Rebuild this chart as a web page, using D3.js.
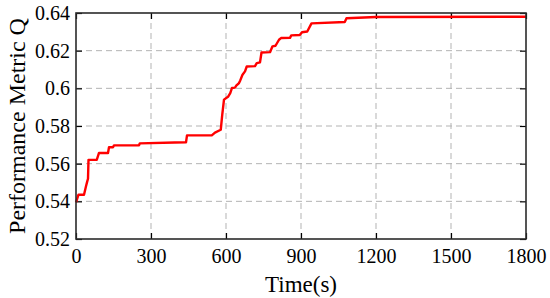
<!DOCTYPE html>
<meta charset="utf-8">
<script src="https://d3js.org/d3.v7.min.js"></script>
<style>
  body { margin: 0; background: #fff; }
</style>
<div id="chart"></div>
<script>
// data
var times = [0, 10, 32, 40, 45, 48, 50, 83, 92, 128, 132, 148, 152, 252, 255, 395, 440, 444,
             543, 556, 579, 585, 592, 608, 617, 624, 636, 641, 652, 657, 666, 676, 683, 716,
             723, 736, 742, 776, 786, 798, 812, 820, 856, 861, 895, 904, 925, 942, 1075, 1082,
             1200, 1800];
var quality = [0.5394, 0.5435, 0.5435, 0.548, 0.5506, 0.552, 0.562, 0.562, 0.5657, 0.5657,
               0.5687, 0.5687, 0.5697, 0.5697, 0.5708, 0.5712, 0.5713, 0.575,
               0.575, 0.5765, 0.578, 0.586, 0.594, 0.5955, 0.5975, 0.6002, 0.6004, 0.6014,
               0.6028, 0.6042, 0.6072, 0.609, 0.6116, 0.6118,
               0.6134, 0.6138, 0.619, 0.6192, 0.6223, 0.6226, 0.6258, 0.6267, 0.6268, 0.6281,
               0.6283, 0.6298, 0.6302, 0.6345, 0.6352, 0.6372,
               0.6379, 0.638];
var xTicks = [0, 300, 600, 900, 1200, 1500, 1800];
var yTicks = [0.52, 0.54, 0.56, 0.58, 0.6, 0.62, 0.64];

var FONT = "'Liberation Serif', Tinos, 'Times New Roman', 'DejaVu Serif', serif";

var data = times.map(function(t, i) { return {t: t, q: quality[i]}; });

var margin = {top: 13, right: 24, bottom: 59, left: 76},
    width = 550 - margin.left - margin.right,
    height = 298 - margin.top - margin.bottom;

var svg = d3.select("#chart")
  .append("svg")
    .attr("width", 550)
    .attr("height", 298)
  .append("g")
    .attr("transform", "translate(" + margin.left + "," + margin.top + ")");

var x = d3.scaleLinear().domain([0, 1800]).range([0, width]);
var y = d3.scaleLinear().domain([0.52, 0.64]).range([height, 0]);

// dashed grid
svg.append("g")
  .selectAll("line")
  .data(xTicks.slice(1, -1))
  .join("line")
    .attr("x1", d => x(d)).attr("x2", d => x(d))
    .attr("y1", 0).attr("y2", height)
    .attr("stroke", "#b3b3b3")
    .attr("stroke-width", 1)
    .attr("stroke-dasharray", "6,4");
svg.append("g")
  .selectAll("line")
  .data(yTicks.slice(1, -1))
  .join("line")
    .attr("x1", 0).attr("x2", width)
    .attr("y1", d => y(d)).attr("y2", d => y(d))
    .attr("stroke", "#b3b3b3")
    .attr("stroke-width", 1)
    .attr("stroke-dasharray", "6,4");

// axes with inward ticks
svg.append("g")
  .attr("transform", "translate(0," + height + ")")
  .call(d3.axisBottom(x).tickValues(xTicks).tickFormat(d3.format("d")).tickSizeInner(-6).tickSizeOuter(0).tickPadding(10));
svg.append("g")
  .call(d3.axisLeft(y).tickValues(yTicks).tickFormat(d => d3.format(".2~f")(d)).tickSizeInner(-6).tickSizeOuter(0).tickPadding(6));
svg.append("g")
  .call(d3.axisTop(x).tickValues(xTicks).tickFormat("").tickSizeInner(-6).tickSizeOuter(0));
svg.append("g")
  .attr("transform", "translate(" + width + ",0)")
  .call(d3.axisRight(y).tickValues(yTicks).tickFormat("").tickSizeInner(-6).tickSizeOuter(0));

svg.selectAll(".domain").remove();
svg.selectAll(".tick line").attr("stroke", "#000").attr("stroke-width", 1.2);
svg.selectAll(".tick text")
  .attr("fill", "#000")
  .attr("font-family", FONT)
  .attr("font-size", 20);

// step line
var line = d3.line().x(d => x(d.t)).y(d => y(d.q));
svg.append("path")
  .datum(data)
  .attr("fill", "none")
  .attr("stroke", "#ff0000")
  .attr("stroke-width", 2.4)
  .attr("stroke-linejoin", "round")
  .attr("d", line);

// frame
svg.append("rect")
  .attr("width", width)
  .attr("height", height)
  .attr("fill", "none")
  .attr("stroke", "#2b2b2b")
  .attr("stroke-width", 1.6);

// axis titles
svg.append("text")
  .attr("x", width / 2)
  .attr("y", height + 53)
  .attr("text-anchor", "middle")
  .attr("font-family", FONT)
  .attr("font-size", 23)
  .text("Time(s)");
svg.append("text")
  .attr("transform", "translate(" + (25 - margin.left) + "," + (height / 2) + ") rotate(-90)")
  .attr("text-anchor", "middle")
  .attr("font-family", FONT)
  .attr("font-size", 24)
  .text("Performance Metric Q");
</script>
